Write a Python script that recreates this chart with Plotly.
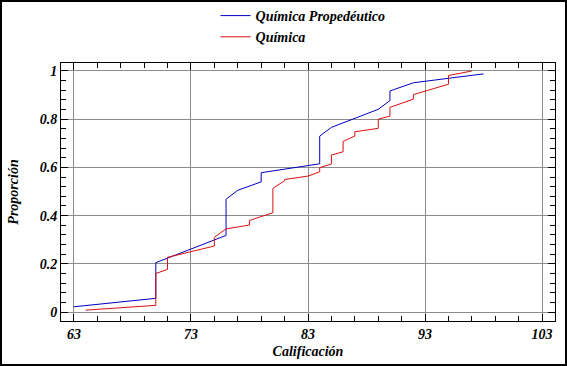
import plotly.graph_objects as go

prop_x = [63, 70, 70, 76, 76, 77, 79, 79, 84, 84, 85, 89, 90, 90, 92, 98]
prop_y = [0.022, 0.057, 0.205, 0.318, 0.468, 0.505, 0.540, 0.578, 0.615, 0.730,
          0.766, 0.841, 0.877, 0.917, 0.951, 0.988]

quim_x = [64, 70, 70, 71, 71, 73, 75, 75, 76, 78, 78, 80, 80, 81, 81, 83, 84, 84,
          85, 85, 86, 86, 87, 87, 89, 89, 90, 90, 92, 92, 95, 95, 97]
quim_y = [0.008, 0.028, 0.160, 0.177, 0.227, 0.250, 0.274, 0.310, 0.345, 0.361,
          0.380, 0.412, 0.513, 0.545, 0.550, 0.564, 0.582, 0.599, 0.614, 0.651,
          0.665, 0.708, 0.730, 0.748, 0.762, 0.800, 0.813, 0.849, 0.883, 0.902,
          0.945, 0.981, 1.000]

series_names = ["Química Propedéutico", "Química"]
x_ticks = [63, 73, 83, 93, 103]
y_ticks = [0, 0.2, 0.4, 0.6, 0.8, 1]
y_tick_text = ["0", "0.2", "0.4", "0.6", "0.8", "1"]

FAMILY = "Liberation Serif"
font_bi = dict(family=FAMILY, size=14, color="black", weight="bold", style="italic")

fig = go.Figure()
fig.add_trace(go.Scatter(x=prop_x, y=prop_y, mode="lines", name=series_names[0],
                         line=dict(color="#0000C0", width=1)))
fig.add_trace(go.Scatter(x=quim_x, y=quim_y, mode="lines", name=series_names[1],
                         line=dict(color="#D81010", width=1)))

W, H = 567, 366
L, R, T, B = 61, 555, 63, 321
pw, ph = R - L, B - T

axis_common = dict(showline=True, linecolor="black", linewidth=1, mirror="allticks",
                   ticks="inside", ticklen=7, tickcolor="black", tickwidth=1,
                   showgrid=True, gridcolor="#8c8c8c", gridwidth=1, zeroline=False,
                   tickfont=font_bi, automargin=False)

fig.update_layout(
    width=W, height=H,
    margin=dict(l=L, r=W - R, t=T, b=H - B, pad=0, autoexpand=False),
    paper_bgcolor="white", plot_bgcolor="white",
    showlegend=True,
    legend=dict(x=0.49, xanchor="center", xref="paper",
                y=1 + 12.5 / H, yanchor="top", yref="container",
                font=dict(family=FAMILY, size=14, color="black",
                          weight="bold", style="italic"),
                bgcolor="rgba(0,0,0,0)", tracegroupgap=0, itemwidth=30),
    xaxis=dict(range=[61.9, 104.1], tickvals=x_ticks, ticktext=[str(v) for v in x_ticks],
               minor=dict(dtick=2, tick0=63, ticks="inside", ticklen=5, tickcolor="black",
                          showgrid=False),
               ticklabelstandoff=0,
               title=dict(text="Calificación", font=font_bi, standoff=5),
               **axis_common),
    yaxis=dict(range=[-0.037, 1.033], tickvals=y_ticks, ticktext=y_tick_text,
               minor=dict(dtick=0.04, tick0=0, ticks="inside", ticklen=5, tickcolor="black",
                          showgrid=False),
               title=dict(text="Proporción", font=font_bi, standoff=17),
               **axis_common),
)

# outer frame around the whole picture
fig.add_shape(type="rect", xref="paper", yref="paper",
              x0=(1 - L) / pw, x1=(W - 1 - L) / pw,
              y0=(B - (H - 1)) / ph, y1=(B - 1) / ph,
              line=dict(color="black", width=2), fillcolor="rgba(0,0,0,0)", layer="above")

fig.write_html("out.html", config={"displayModeBar": False},
               post_script="document.body.style.margin='0';document.body.style.overflow='hidden';")
